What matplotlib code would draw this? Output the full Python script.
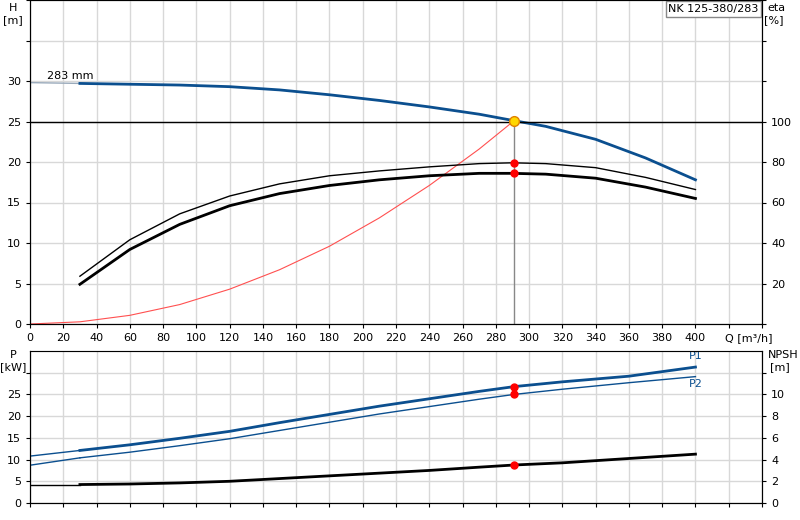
import matplotlib
matplotlib.use("Agg")
import matplotlib.pyplot as plt
import numpy as np

q_h = [30, 60, 90, 120, 150, 180, 210, 240, 270, 291, 310, 340, 370, 400]
h = [29.7, 29.6, 29.5, 29.3, 28.9, 28.3, 27.6, 26.8, 25.9, 25.1, 24.4, 22.8, 20.5, 17.8]
q_e = [30, 60, 90, 120, 150, 180, 210, 240, 270, 290, 310, 340, 370, 400]
eta_thick = [19.6, 36.8, 49.2, 58.4, 64.4, 68.4, 71.2, 73.2, 74.4, 74.4, 74.0, 72.0, 67.6, 62.0]
eta_thin = [23.6, 41.6, 54.4, 63.2, 69.2, 73.2, 75.6, 77.6, 79.2, 79.6, 79.2, 77.2, 72.4, 66.4]
q_sys = [0, 30, 60, 90, 120, 150, 180, 210, 240, 270, 291]
h_sys = [0, 0.27, 1.07, 2.4, 4.3, 6.7, 9.6, 13.1, 17.1, 21.6, 25.1]
q_p = [30, 60, 90, 120, 150, 180, 210, 240, 270, 291, 320, 360, 400]
p1 = [12.1, 13.4, 14.9, 16.5, 18.5, 20.4, 22.3, 24.0, 25.7, 26.8, 27.9, 29.2, 31.3]
p2 = [10.4, 11.7, 13.2, 14.8, 16.7, 18.6, 20.5, 22.2, 23.9, 25.0, 26.2, 27.7, 29.1]
q_n = [30, 60, 90, 120, 150, 180, 210, 240, 270, 291, 320, 360, 400]
npsh = [1.7, 1.75, 1.85, 2.0, 2.25, 2.5, 2.75, 3.0, 3.3, 3.5, 3.7, 4.1, 4.5]
q_op = 291
h_op = 25.1
eta_op = [79.6, 74.4]
p_op = [26.8, 25.0]
npsh_op = 3.5

blue = '#0b4f8f'
plt.rcParams['font.family'] = ['DejaVu Sans']
plt.rcParams['font.size'] = 8
fig = plt.figure(figsize=(8, 5.2), dpi=100)
ax = fig.add_axes([30/800, 1-324/520, 732/800, 324/520])
ax.set_xlim(0, 440); ax.set_ylim(0, 40)
ax.set_xticks(range(0, 441, 20)); ax.set_xticklabels([str(v) if v <= 400 else '' for v in range(0, 441, 20)])
ax.set_yticks(range(0, 41, 5)); ax.set_yticklabels([str(v) if v <= 30 else '' for v in range(0, 41, 5)])
ax.grid(True, color='#d8d8d8', lw=1); ax.set_axisbelow(True)
ax.spines['top'].set_color('#aaaaaa')
ax.tick_params(length=3)
ax.plot([0, 30], [29.8, h[0]], color='#9aaabb', lw=1)
ax.plot(q_h, h, color=blue, lw=2)
ax2 = ax.twinx(); ax2.set_ylim(0, 160)
ax2.set_yticks(range(0, 161, 20)); ax2.set_yticklabels(['', '20', '40', '60', '80', '100', '', '', ''])
ax2.tick_params(length=3)
ax2.plot(q_e, eta_thick, color='black', lw=2)
ax2.plot(q_e, eta_thin, color='black', lw=1)
ax.plot(q_sys, h_sys, color='#ff5050', lw=0.8)
ax.axhline(25, color='black', lw=1)
ax.plot([q_op, q_op], [0, h_op], color='#888888', lw=1)
ax2.plot([q_op]*2, eta_op, 'o', color='red', ms=5)
ax.plot(q_op, h_op, 'o', color='#ffd700', mec='#e08000', ms=7, zorder=5)
ax.text(10, 30.3, '283 mm', fontsize=8)
fig.text(13/800, 1-8/520, 'H', ha='center', va='center')
fig.text(13/800, 1-20/520, '[m]', ha='center', va='center')
fig.text(776/800, 1-8/520, 'eta', ha='center', va='center')
fig.text(774/800, 1-20/520, '[%]', ha='center', va='center')
ax.text(438, 38.9, 'NK 125-380/283', ha='right', va='center', fontsize=8,
        bbox=dict(boxstyle='square,pad=0.25', fc='white', ec='#888888'))
ax.text(418, -1.1, 'Q [m³/h]', ha='left', va='top', fontsize=8)

bx = fig.add_axes([30/800, 1-503/520, 732/800, 152/520])
bx.set_xlim(0, 440); bx.set_ylim(0, 35)
bx.set_xticks(range(0, 441, 20)); bx.set_xticklabels([])
bx.set_yticks(range(0, 31, 5)); bx.set_yticklabels(['0', '5', '10', '15', '20', '25', ''])
bx.grid(True, color='#d8d8d8', lw=1); bx.set_axisbelow(True)
bx.spines['top'].set_color('#aaaaaa')
bx.tick_params(length=3)
bx.plot([0, 30], [10.8, p1[0]], color=blue, lw=1)
bx.plot([0, 30], [8.7, p2[0]], color=blue, lw=1)
bx.plot(q_p, p1, color=blue, lw=2)
bx.plot(q_p, p2, color=blue, lw=1)
bx.plot([q_op]*2, p_op, 'o', color='red', ms=5)
bx.text(400, 33.2, 'P1', color=blue, ha='center', fontsize=8)
bx.text(400, 26.6, 'P2', color=blue, ha='center', fontsize=8)
bx2 = bx.twinx(); bx2.set_ylim(0, 14)
bx2.set_yticks(range(0, 13, 2)); bx2.set_yticklabels(['0', '2', '4', '6', '8', '10', ''])
bx2.tick_params(length=3)
bx2.plot([0, 30], [npsh[0], npsh[0]], color='black', lw=1)
bx2.plot(q_n, npsh, color='black', lw=2)
bx2.plot(q_op, npsh_op, 'o', color='red', ms=5)
fig.text(13/800, 1-355/520, 'P', ha='center', va='center')
fig.text(13/800, 1-367/520, '[kW]', ha='center', va='center')
fig.text(783/800, 1-355/520, 'NPSH', ha='center', va='center')
fig.text(780/800, 1-367/520, '[m]', ha='center', va='center')
fig.savefig('out.png', dpi=100)
